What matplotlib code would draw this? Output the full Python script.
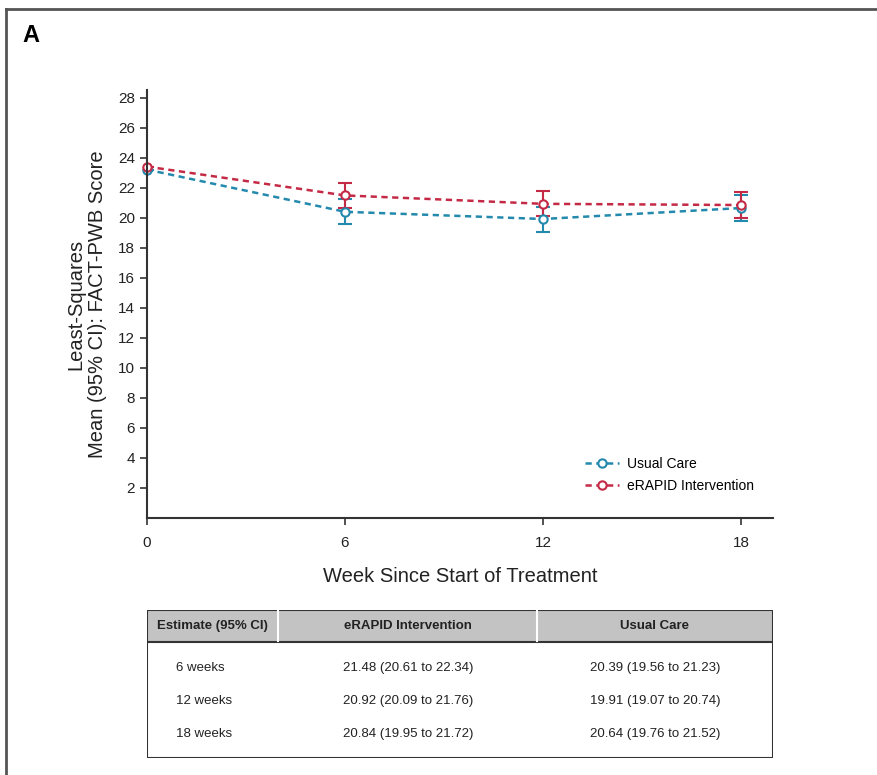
import matplotlib
matplotlib.use("Agg")
import matplotlib.pyplot as plt
from matplotlib.lines import Line2D
from matplotlib.patches import Rectangle

plt.rcParams['font.family'] = ['Liberation Sans', 'DejaVu Sans']

weeks = [0, 6, 12, 18]
usual_mean = [23.2, 20.39, 19.91, 20.64]
usual_lo = [23.2, 19.56, 19.07, 19.76]
usual_hi = [23.2, 21.23, 20.74, 21.52]
erapid_mean = [23.4, 21.48, 20.92, 20.84]
erapid_lo = [23.4, 20.61, 20.09, 19.95]
erapid_hi = [23.4, 22.34, 21.76, 21.72]

yticks = list(range(2, 30, 2))

table_header = ["Estimate (95% CI)", "eRAPID Intervention", "Usual Care"]
table_rows = [
    ["6 weeks", "21.48 (20.61 to 22.34)", "20.39 (19.56 to 21.23)"],
    ["12 weeks", "20.92 (20.09 to 21.76)", "19.91 (19.07 to 20.74)"],
    ["18 weeks", "20.84 (19.95 to 21.72)", "20.64 (19.76 to 21.52)"],
]

blue = "#2389ad"
red = "#c42a45"
dark = "#333333"

W, H = 877, 775
fig = plt.figure(figsize=(W / 100, H / 100), dpi=100)

# outer panel frame (top and left only)
fig.add_artist(Line2D([6 / W, 6 / W], [0, 1 - 9 / H], color="#555555", lw=2))
fig.add_artist(Line2D([6 / W, 1], [1 - 9 / H, 1 - 9 / H], color="#555555", lw=2))
fig.text(22 / W, 1 - 35 / H, "A", fontsize=17, fontweight="bold", va="center")

ax = fig.add_axes([147 / W, 1 - 518 / H, (773 - 147) / W, (518 - 90) / H])

def yerr(mean, lo, hi):
    return [[m - l for m, l in zip(mean, lo)], [h - m for m, h in zip(mean, hi)]]

ls = (0, (2.5, 1.8))
for mean, lo, hi, c in [(usual_mean, usual_lo, usual_hi, blue),
                        (erapid_mean, erapid_lo, erapid_hi, red)]:
    eb = ax.errorbar(weeks, mean, yerr=yerr(mean, lo, hi),
                     color=c, ls=ls, lw=1.8, marker="o", mfc="white", mec=c,
                     ms=6, mew=1.5, capsize=5, elinewidth=1.5, capthick=1.5)
    for art in eb.lines[0:1]:
        art.set_clip_on(False)

ax.set_xlim(0, 18.97)
ax.set_ylim(0, 28.5)
ax.set_xticks(weeks)
ax.set_yticks(yticks)
for s in ["top", "right"]:
    ax.spines[s].set_visible(False)
for s in ["left", "bottom"]:
    ax.spines[s].set_color(dark)
    ax.spines[s].set_linewidth(1.5)
ax.tick_params(axis="both", colors=dark, width=1.2, length=5, labelsize=11,
               labelcolor="#222222")
ax.tick_params(axis="x", pad=8)
ax.set_xlabel("Week Since Start of Treatment", fontsize=14.5, color="#222222",
              labelpad=12)
ax.set_ylabel("Least-Squares\nMean (95% CI): FACT-PWB Score", fontsize=14.5,
              color="#222222", labelpad=8, linespacing=1.2)

handles = [
    Line2D([], [], color=blue, ls=ls, lw=1.8, marker="o", mfc="white",
           mec=blue, ms=6, mew=1.5),
    Line2D([], [], color=red, ls=ls, lw=1.8, marker="o", mfc="white",
           mec=red, ms=6, mew=1.5),
]
ax.legend(handles, ["Usual Care", "eRAPID Intervention"], loc="lower left",
          bbox_to_anchor=(0.68, 0.03), frameon=False, fontsize=10,
          handlelength=2.4, handletextpad=0.6, labelspacing=0.55)

# table below the chart
tax = fig.add_axes([147 / W, 1 - 758 / H, (773 - 147) / W, (758 - 610) / H])
tax.set_xlim(147, 773)
tax.set_ylim(758, 610)
tax.axis("off")
tax.add_patch(Rectangle((147, 610), 626, 32, facecolor="#c3c3c3",
                        edgecolor="none"))
tax.add_patch(Rectangle((147, 610), 626, 148, facecolor="none",
                        edgecolor=dark, lw=1.5))
tax.plot([147, 773], [642, 642], color=dark, lw=1.5)
for xs in [278, 537]:
    tax.plot([xs, xs], [611, 641], color="white", lw=1.5)

col_x = [212, 408, 655]
for x, h in zip(col_x, table_header):
    tax.text(x, 626, h, ha="center", va="center", fontsize=9.5,
             fontweight="bold", color="#222222")
row_y = [668, 701, 734]
for y, row in zip(row_y, table_rows):
    tax.text(176, y, row[0], ha="left", va="center", fontsize=9.5,
             color="#222222")
    tax.text(col_x[1], y, row[1], ha="center", va="center", fontsize=9.5,
             color="#222222")
    tax.text(col_x[2], y, row[2], ha="center", va="center", fontsize=9.5,
             color="#222222")

fig.savefig("out.png", dpi=100)
